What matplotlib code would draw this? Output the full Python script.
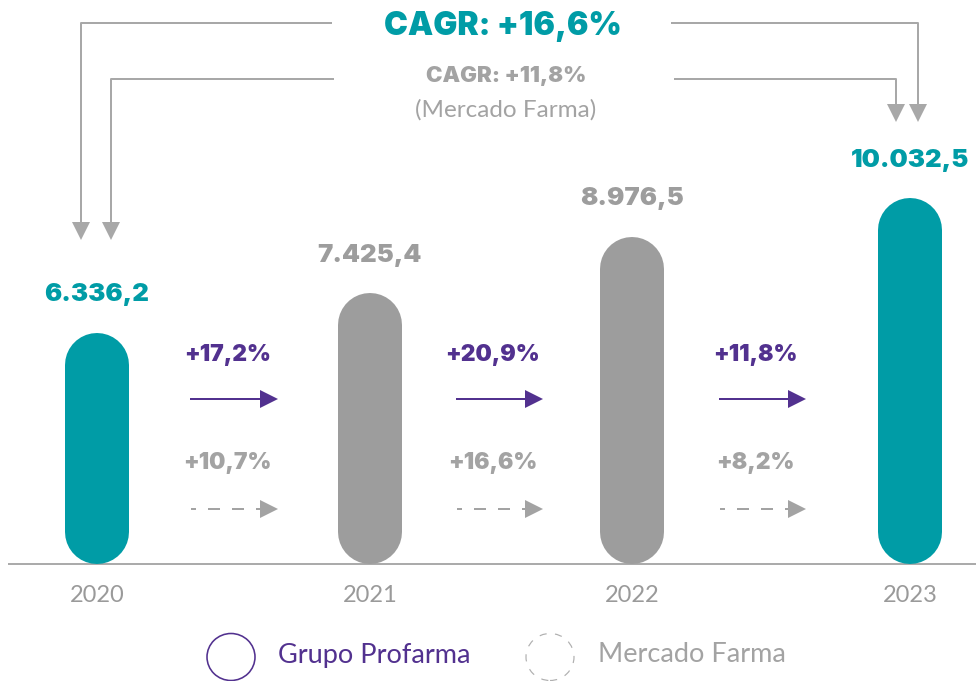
import numpy as np
import matplotlib
matplotlib.use('Agg')
import matplotlib.pyplot as plt
from matplotlib.patches import Ellipse

# data
years = ['2020', '2021', '2022', '2023']
receita = [6336.2, 7425.4, 8976.5, 10032.5]
cresc_profarma = [17.2, 20.9, 11.8]
cresc_mercado = [10.7, 16.6, 8.2]
cagr_profarma = 16.6
cagr_mercado = 11.8
bar_colors = ['#009CA6', '#9D9D9D', '#9D9D9D', '#009CA6']
label_colors = ['#009CA6', '#9D9D9D', '#9D9D9D', '#009CA6']

TEAL = '#009CA6'
PURPLE = '#52318F'
GRAY = '#A3A3A3'
LINE = '#A8A8A8'
HEAVY = dict(family=['Inter', 'DejaVu Sans'], fontweight='black')

W, H, DPI = 976, 681, 100
plt.rcParams['font.family'] = ['Lato', 'DejaVu Sans']

fig = plt.figure(figsize=(W / DPI, H / DPI), dpi=DPI)
ax = fig.add_axes([0, 0, 1, 1])

# scale: x=0 -> 97px, 271px per category; y=0 -> 564px from top, 27.42 units per px
XMIN, XMAX = -97 / 271, (W - 97) / 271
UPP = 27.42
YMIN, YMAX = -(H - 564) * UPP, 564 * UPP
ax.set_xlim(XMIN, XMAX)
ax.set_ylim(YMIN, YMAX)


def px_x(p):
    return XMIN + p / W * (XMAX - XMIN)


def px_y(p):
    return YMAX - p / H * (YMAX - YMIN)


def fmt(v):
    s = f'{v:,.1f}'
    return s.replace(',', 'X').replace('.', ',').replace('X', '.')


def pt(pxl):
    return pxl * 72 / DPI


# capsule bars (slightly uneven spacing as in the original)
r = 32 * UPP
xs = [0, 1.007, 1.974, 3.0]
for x, v, c, lc in zip(xs, receita, bar_colors, label_colors):
    ax.plot([x, x], [r, v - r], lw=pt(64), color=c, solid_capstyle='round', zorder=3)
    ax.annotate(fmt(v), (x, v), xytext=(0, pt(38)), textcoords='offset points',
                ha='center', va='center', fontsize=18.5, color=lc, **HEAVY)

# baseline + years
ax.spines[['top', 'right', 'left']].set_visible(False)
ax.spines['bottom'].set_position(('data', 0))
ax.spines['bottom'].set_color('#ABABAB')
ax.spines['bottom'].set_linewidth(pt(2))
ax.spines['bottom'].set_bounds(px_x(9), XMAX)
ax.set_xticks(xs, years)
ax.set_yticks([])
ax.tick_params(axis='x', length=0, pad=15, labelsize=17, labelcolor='#9A9A9A')


def arrow(x0, x1, y, color, dashed=False):
    # dashes of 12px with 12px gaps, first one cut short
    ls = (3.5, (6, 6)) if dashed else '-'
    ax.plot([x0, x1 - 10 / 271], [y, y], color=color, lw=pt(2), ls=ls,
            dash_capstyle='butt')
    ax.plot([x1 - 8.5 / 271], [y], marker='>', ms=pt(18), color=color, mew=0)


# growth between years
gap_pos = [0.48, 1.46, 2.43]
for gx, gp, gm in zip(gap_pos, cresc_profarma, cresc_mercado):
    ax.text(gx, px_y(355), f'+{gp:.1f}%'.replace('.', ','), ha='center', va='center',
            fontsize=16.5, color=PURPLE, **HEAVY)
    arrow(gx - 36 / 271, gx + 50 / 271, px_y(399), PURPLE)
    ax.text(gx, px_y(463), f'+{gm:.1f}%'.replace('.', ','), ha='center', va='center',
            fontsize=16.5, color=GRAY, **HEAVY)
    arrow(gx - 36 / 271, gx + 50 / 271, px_y(509), GRAY, dashed=True)

# CAGR brackets
ax.text(px_x(503), px_y(27), f'CAGR: +{cagr_profarma:.1f}%'.replace('.', ','),
        ha='center', va='center', fontsize=23, color=TEAL, **HEAVY)
ax.text(px_x(506), px_y(76), f'CAGR: +{cagr_mercado:.1f}%'.replace('.', ','),
        ha='center', va='center', fontsize=16, color=GRAY, **HEAVY)
ax.text(px_x(506), px_y(110), '(Mercado Farma)', ha='center', va='center',
        fontsize=17.5, color=GRAY)

brackets = [((331, 23), (81, 23), (81, 240)),
            ((333, 79), (111, 79), (111, 240)),
            ((672, 23), (918, 23), (918, 122)),
            ((675, 79), (896, 79), (896, 122))]
for (ax0, ay0), (ax1, ay1), (ax2, ay2) in brackets:
    ax.plot([px_x(ax0), px_x(ax1), px_x(ax2)],
            [px_y(ay0), px_y(ay1), px_y(ay2 - 12)], color=LINE, lw=pt(2))
    ax.plot([px_x(ax2)], [px_y(ay2 - 8.5)], marker='v', ms=pt(18), color=LINE, mew=0)

# legend
ax.add_patch(Ellipse((px_x(231), px_y(657)), 48 / 271, 47 * UPP, fill=False,
                     ec=PURPLE, lw=pt(1.6)))
ax.text(px_x(278), px_y(655), 'Grupo Profarma', ha='left', va='center',
        fontsize=19.5, color=PURPLE)
ax.add_patch(Ellipse((px_x(550), px_y(657)), 48 / 271, 47 * UPP, fill=False,
                     ec='#B0B0B0', lw=pt(1.2), ls=(0, (6, 7))))
ax.text(px_x(598), px_y(655), 'Mercado Farma', ha='left', va='center',
        fontsize=19.5, color=GRAY)

fig.savefig('out.png', dpi=DPI)
